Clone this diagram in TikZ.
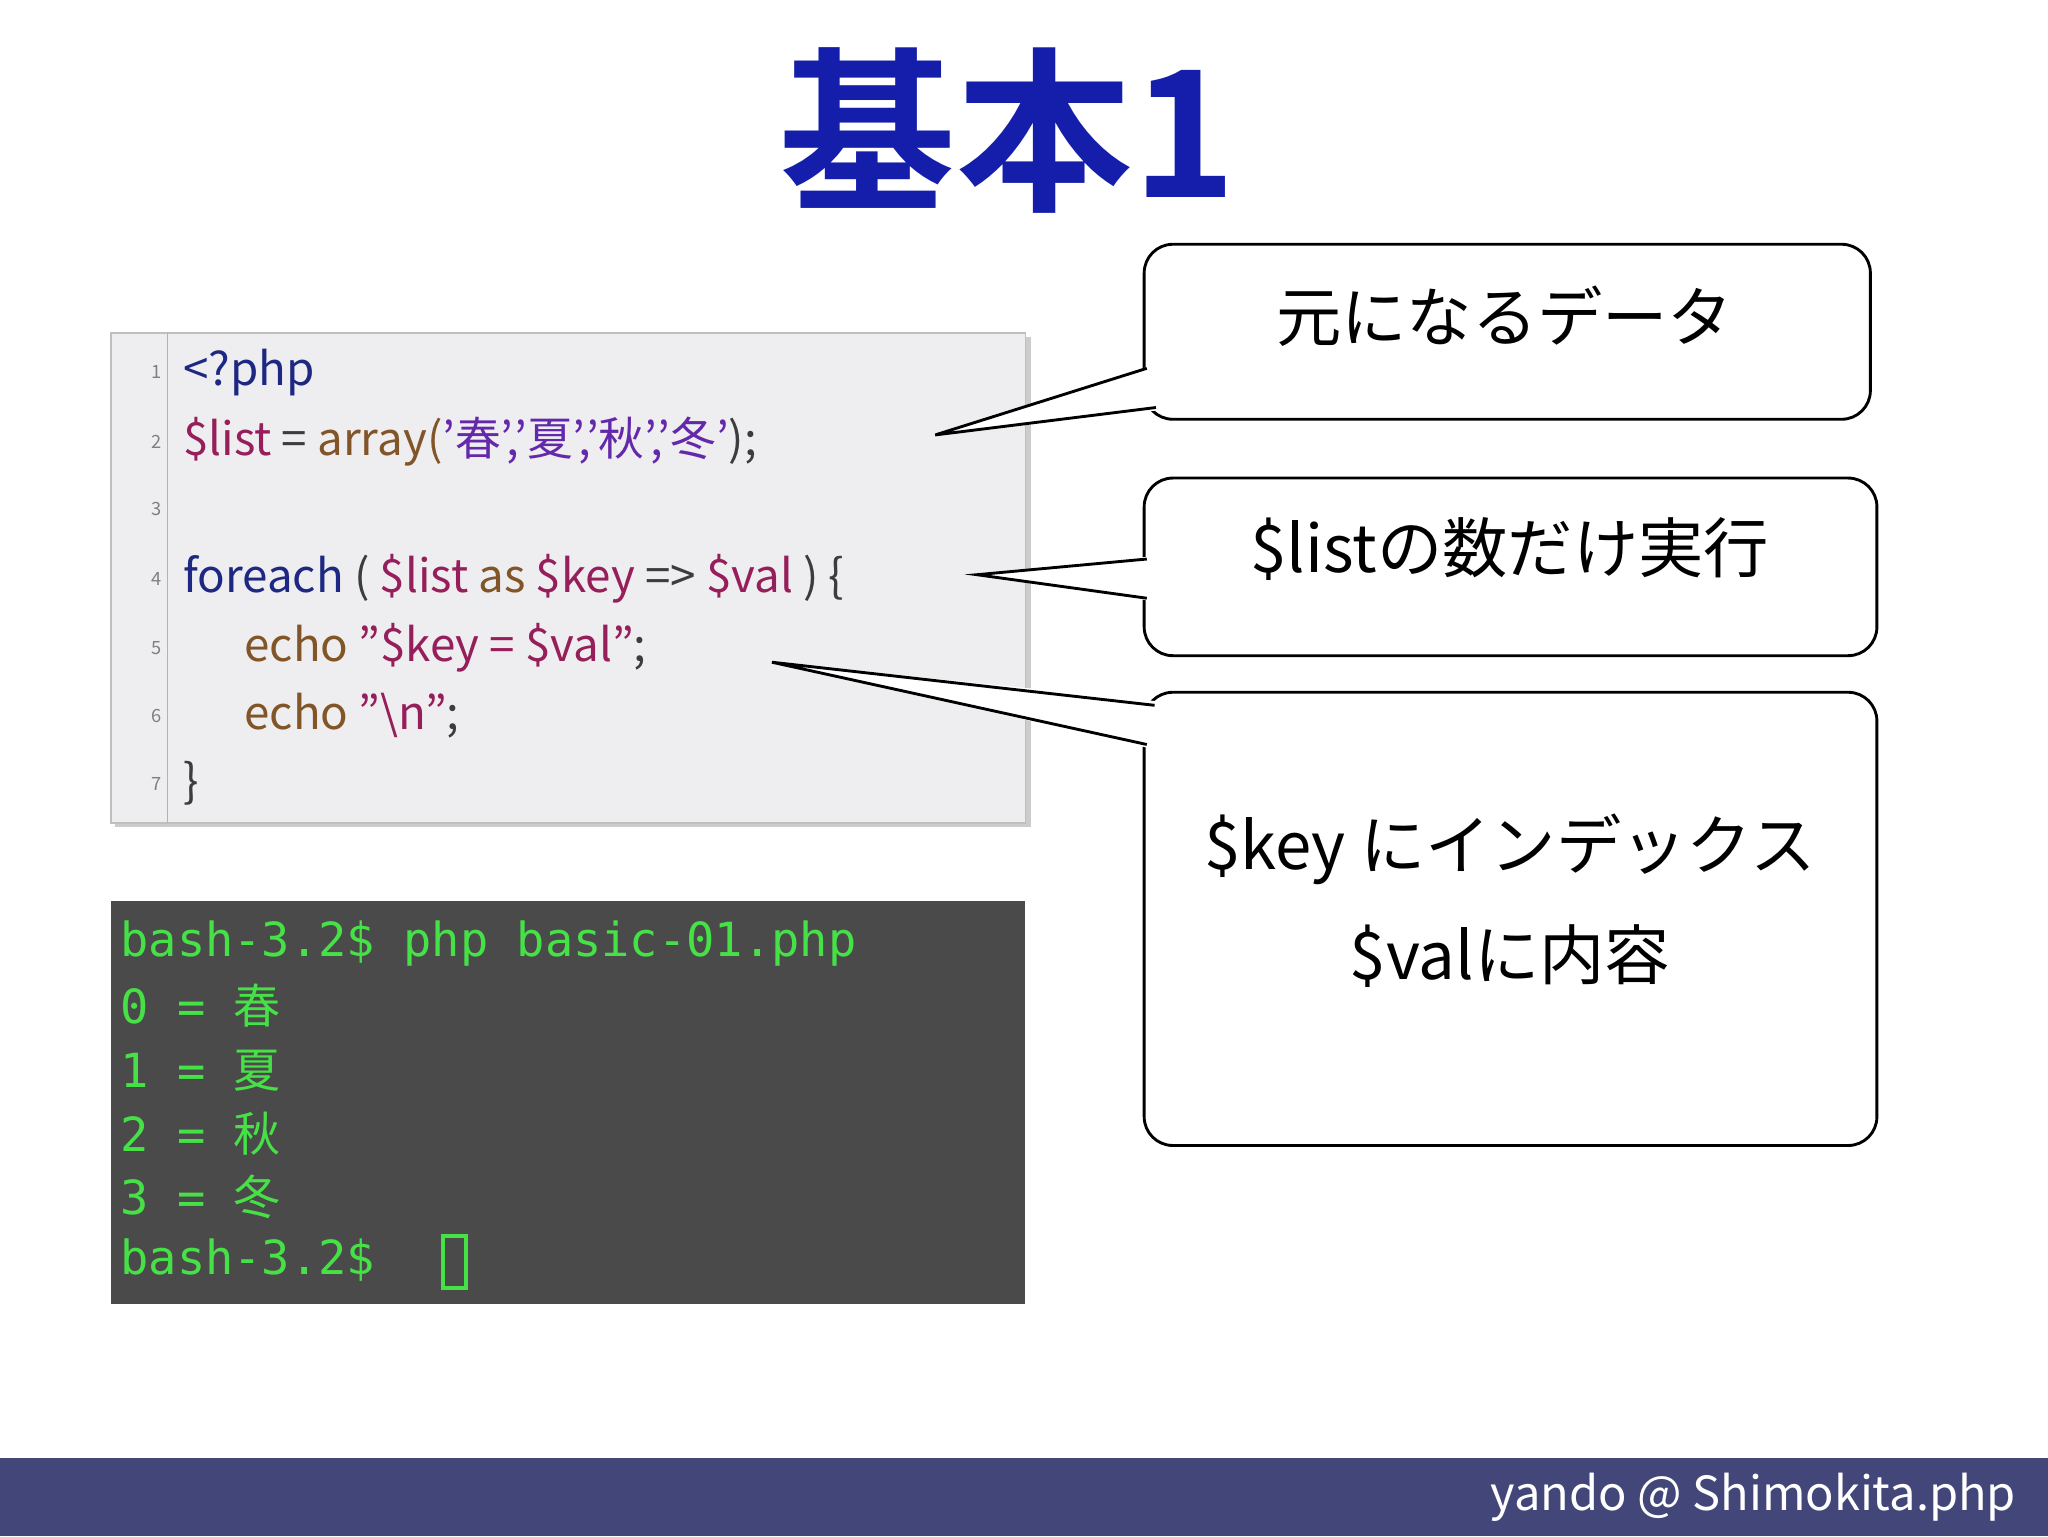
\documentclass[tikz,border=0pt]{standalone}
\usepackage{fontspec}
\setmainfont{Noto Sans CJK JP}
\newfontfamily\cjk{Noto Sans CJK JP}
\newfontfamily\cjkb{Noto Sans CJK JP}[BoldFont={Noto Sans CJK JP Bold}]
\newfontfamily\termfont{DejaVu Sans Mono}
\definecolor{titleblue}{RGB}{20,30,170}
\definecolor{codebg}{RGB}{238,238,240}
\definecolor{cvar}{RGB}{150,30,90}
\definecolor{ckey}{RGB}{30,40,130}
\definecolor{cecho}{RGB}{130,85,40}
\definecolor{cstr}{RGB}{100,40,170}
\definecolor{cop}{RGB}{60,60,60}
\definecolor{termbg}{RGB}{74,74,74}
\definecolor{termgreen}{RGB}{70,225,70}
\definecolor{footbg}{RGB}{66,70,120}
\tikzset{
  callout/.style={draw=black,line width=2.2pt,fill=white,rounded corners=22pt},
  ctext/.style={font=\fontsize{50}{62}\selectfont,align=center},
  codeline/.style={anchor=west,font=\fontsize{35}{40}\selectfont,inner sep=0pt},
  lnum/.style={anchor=east,font=\fontsize{14}{16}\selectfont,text=gray,inner sep=0pt},
  termline/.style={anchor=west,font=\termfont\fontsize{36}{40}\selectfont,text=termgreen,inner sep=0pt},
  ptr/.style={line width=2.2pt}
}
\begin{document}
\begin{tikzpicture}[x=1pt,y=-1pt]
\useasboundingbox (0,0) rectangle (1568,1176);
\fill[white] (0,0) rectangle (1568,1176);
% title
\node (title) at (772,100) {\cjkb\bfseries\fontsize{135}{140}\selectfont\textcolor{titleblue}{基本1}};
% code box
\fill[gray!40] (88,258) rectangle (789,633);
\fill[codebg] (85,255) rectangle (785,630) ;
\node[draw=gray!50,line width=1pt,minimum width=700pt,minimum height=375pt,inner sep=0pt] (code) at (435,442.5) {};
\draw[gray!60,line width=1pt] (128,255) -- (128,630);
\foreach \n/\y in {1/285,2/338,3/390,4/443,5/496,6/548,7/600}{\node[lnum] (ln\n) at (124,\y) {\n};}
\node[codeline] (c1) at (140,285) {\textcolor{ckey}{<?php}};
\node[codeline] (c2) at (140,338) {\textcolor{cvar}{\$list} \textcolor{cop}{=} \textcolor{cecho}{array(}\textcolor{cstr}{'春','夏','秋','冬'}\textcolor{cop}{);}};
\node[codeline] (c4) at (140,443) {\textcolor{ckey}{foreach} \textcolor{cop}{(} \textcolor{cvar}{\$list} \textcolor{cecho}{as} \textcolor{cvar}{\$key} \textcolor{cop}{=>} \textcolor{cvar}{\$val} \textcolor{cop}{) \{}};
\node[codeline] (c5) at (187,496) {\textcolor{cecho}{echo} \textcolor{cvar}{"\$key = \$val"}\textcolor{cop}{;}};
\node[codeline] (c6) at (187,548) {\textcolor{cecho}{echo} \textcolor{cvar}{"\textbackslash n"}\textcolor{cop}{;}};
\node[codeline] (c7) at (140,600) {\textcolor{cop}{\}}};
% terminal
\fill[termbg] (85,690) rectangle (785,998);
\node[inner sep=0pt,minimum width=700pt,minimum height=308pt] (term) at (435,844) {};
\node[termline] (t1) at (92,722) {bash-3.2\$ php basic-01.php};
\node[termline] (t2) at (92,770) {0 = {\cjk 春}};
\node[termline] (t3) at (92,820) {1 = {\cjk 夏}};
\node[termline] (t4) at (92,868) {2 = {\cjk 秋}};
\node[termline] (t5) at (92,916) {3 = {\cjk 冬}};
\node[termline] (t6) at (92,965) {bash-3.2\$ };
\node[draw=termgreen,line width=3pt,minimum width=18pt,minimum height=40pt,inner sep=0pt] (cursor) at (348,966) {};
% callout A
\draw[callout] (876,187) rectangle (1432,321);
\coordinate (a1) at (878,282); \coordinate (atip) at (716,333); \coordinate (a2) at (885,312);
\fill[white] (881,280) -- (atip) -- (888,314) -- cycle;
\draw[ptr] (a1) -- (atip) -- (a2);
\node[ctext] (ta) at (1152,242) {元になるデータ};
% callout B
\draw[callout] (876,366) rectangle (1437,502);
\coordinate (b1) at (878,428); \coordinate (btip) at (748,440); \coordinate (b2) at (878,458);
\fill[white] (881,426) -- (btip) -- (881,460) -- cycle;
\draw[ptr] (b1) -- (btip) -- (b2);
\node[ctext] (tb) at (1156,420) {\$listの数だけ実行};
% callout C
\draw[callout] (876,530) rectangle (1437,877);
\coordinate (k1) at (884,540); \coordinate (ktip) at (591,507); \coordinate (k2) at (878,570);
\fill[white] (887,537) -- (ktip) -- (881,573) -- cycle;
\draw[ptr] (k1) -- (ktip) -- (k2);
\node[ctext] (tc1) at (1156,650) {\$key にインデックス};
\node[ctext] (tc2) at (1156,732) {\$valに内容};
% footer
\fill[footbg] (0,1116) rectangle (1568,1176);
\node[anchor=east,text=white,font=\fontsize{36}{40}\selectfont] (foot) at (1547,1146) {yando @ Shimokita.php};
\end{tikzpicture}
\end{document}
